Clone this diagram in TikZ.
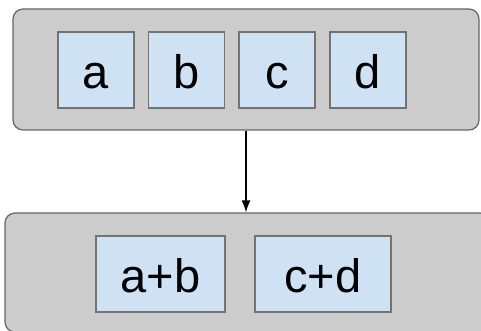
\documentclass[tikz,border=0pt]{standalone}
\usepackage{fontspec}
\setmainfont{Liberation Sans}
\usetikzlibrary{arrows.meta}
\definecolor{panelgray}{HTML}{CCCCCC}
\definecolor{cellblue}{HTML}{CFE2F3}

\begin{document}
\begin{tikzpicture}[x=1pt, y=-1pt,
		panel/.style={draw=gray!80!black, fill=panelgray, line width=1.2pt, rounded corners=10pt},
		cell/.style={draw=gray!90!black, fill=cellblue, line width=1.2pt, minimum height=76pt, inner sep=0pt,
			text height=37pt, text depth=0pt, font=\fontsize{47}{50}\selectfont},
		flow/.style={-{Latex[length=12pt, width=9pt]}, line width=1.3pt}]
	\useasboundingbox (0,0) rectangle (481,331);
	% the two panels
	\node[panel, minimum width=466pt, minimum height=121pt] (top) at (246,69.5) {};
	\node[panel, minimum width=485pt, minimum height=119pt] (bot) at (247.5,272.5) {};
	% inputs
	\node[cell, minimum width=76pt] (a) at (96,70) {a};
	\node[cell, minimum width=76pt] (b) at (186.5,70) {b};
	\node[cell, minimum width=76pt] (c) at (277,70) {c};
	\node[cell, minimum width=76pt] (d) at (368,70) {d};
	% sums
	\node[cell, minimum width=129pt] (ab) at (160.5,274) {a+b};
	\node[cell, minimum width=136pt] (cd) at (323,274) {c+d};
	
	\draw[flow] (top.south) -- (top.south |- bot.north);
\end{tikzpicture}
\end{document}
